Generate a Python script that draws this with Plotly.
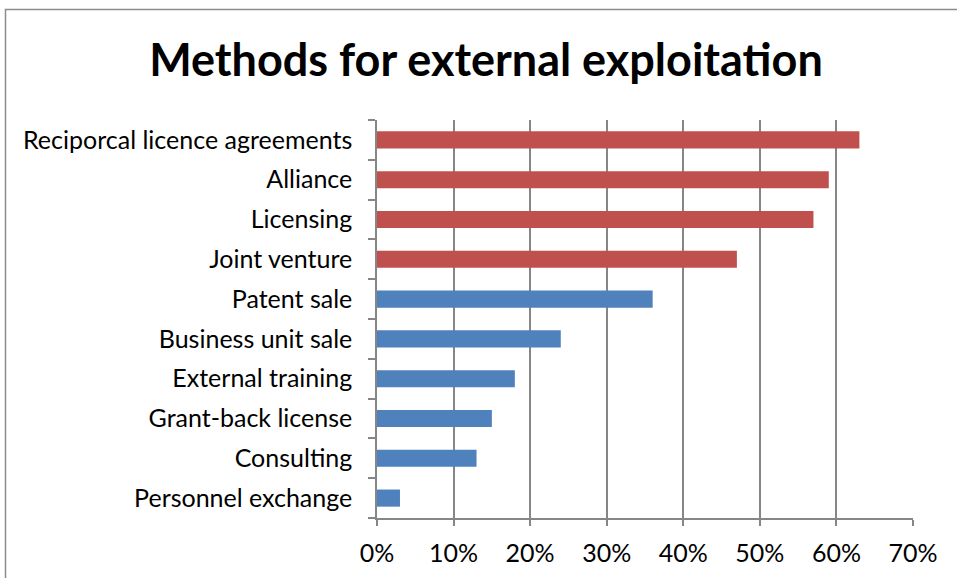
import plotly.graph_objects as go

# Survey results: share of firms using each method
methods = [
    "Personnel exchange",
    "Consulting",
    "Grant-back license",
    "External training",
    "Business unit sale",
    "Patent sale",
    "Joint venture",
    "Licensing",
    "Alliance",
    "Reciporcal licence agreements",
]
shares = [0.03, 0.13, 0.15, 0.18, 0.24, 0.36, 0.47, 0.57, 0.59, 0.63]
groups = ["blue"] * 6 + ["red"] * 4

palette = {"blue": "#4F81BD", "red": "#C0504D"}
bar_colors = [palette[g] for g in groups]

W, H = 957, 578
ml, mr, mt, mb = 377, 44, 120, 60
pw, ph = W - ml - mr, H - mt - mb

fig = go.Figure(
    go.Bar(
        x=shares,
        y=methods,
        orientation="h",
        marker=dict(color=bar_colors, line=dict(width=0)),
        width=0.43,
    )
)

grid_col = "#868686"
font_family = "Lato, Carlito, 'Liberation Sans', sans-serif"

fig.update_layout(
    width=W,
    height=H,
    margin=dict(l=ml, r=mr, t=mt, b=mb),
    paper_bgcolor="white",
    plot_bgcolor="white",
    showlegend=False,
    font=dict(family=font_family, size=25, color="black"),
    title=dict(
        text="<b>Methods for external exploitation</b>",
        font=dict(family=font_family, size=45, color="black"),
        x=486 / W,
        xref="container",
        xanchor="center",
        y=1 - 60 / H,
        yref="container",
        yanchor="middle",
    ),
    xaxis=dict(
        range=[0, 0.7],
        tickvals=[0, 0.1, 0.2, 0.3, 0.4, 0.5, 0.6, 0.7],
        tickformat=".0%",
        showgrid=True,
        gridcolor=grid_col,
        gridwidth=1.5,
        showline=True,
        linecolor=grid_col,
        linewidth=1.5,
        ticks="outside",
        ticklen=6,
        tickcolor=grid_col,
        tickwidth=1.5,
        zeroline=False,
        ticklabelstandoff=6,
        tickfont=dict(size=25),
    ),
    yaxis=dict(
        categoryorder="array",
        categoryarray=methods,
        showgrid=False,
        showline=True,
        linecolor=grid_col,
        linewidth=1.5,
        ticks="outside",
        tickson="boundaries",
        ticklen=7,
        tickcolor=grid_col,
        tickwidth=1.5,
        ticklabelstandoff=18,
        tickfont=dict(size=25),
        range=[-0.5, 9.5],
    ),
)

# Chart-area frame (left and top edges visible)
fig.add_shape(
    type="rect",
    xref="paper",
    yref="paper",
    x0=(5.5 - ml) / pw,
    x1=(W + 20 - ml) / pw,
    y0=(H - mb - (H + 20)) / ph,
    y1=(H - mb - 9.5) / ph,
    line=dict(color="#8C8C8C", width=1.5),
    fillcolor="rgba(0,0,0,0)",
    layer="below",
)

fig.write_html("out.html")
